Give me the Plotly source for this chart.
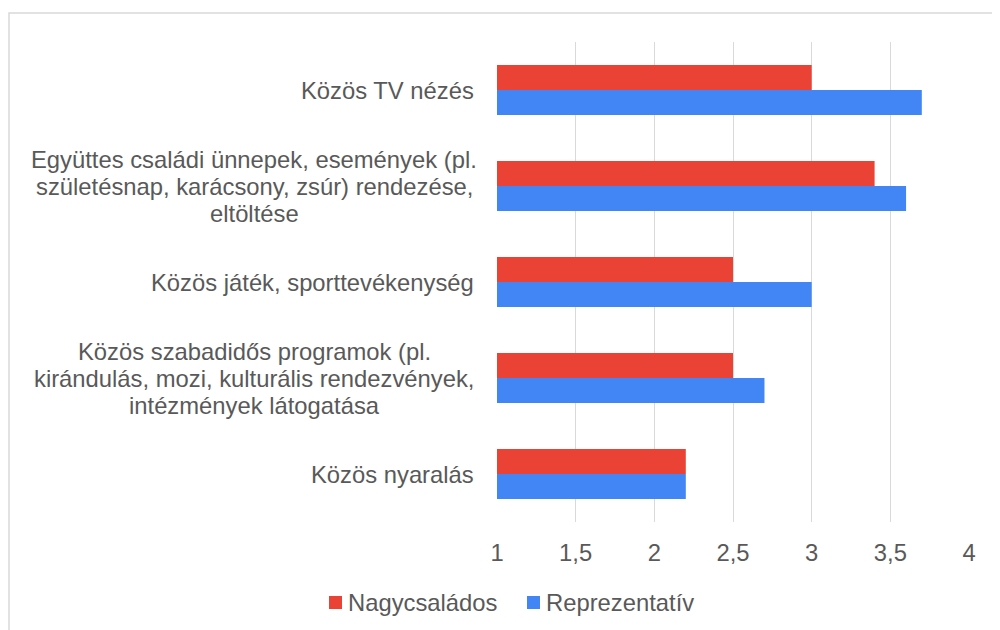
import plotly.graph_objects as go

categories = [
    "Közös TV nézés",
    "Együttes családi ünnepek, események (pl. születésnap, karácsony, zsúr) rendezése, eltöltése",
    "Közös játék, sporttevékenység",
    "Közös szabadidős programok (pl. kirándulás, mozi, kulturális rendezvények, intézmények látogatása",
    "Közös nyaralás",
]
category_lines = [
    ["Közös TV nézés"],
    ["Együttes családi ünnepek, események (pl.", "születésnap, karácsony, zsúr) rendezése,", "eltöltése"],
    ["Közös játék, sporttevékenység"],
    ["Közös szabadidős programok (pl.", "kirándulás, mozi, kulturális rendezvények,", "intézmények látogatása"],
    ["Közös nyaralás"],
]
series_names = ["Nagycsaládos", "Reprezentatív"]
nagycsalados = [3.0, 3.4, 2.5, 2.5, 2.2]
reprezentativ = [3.7, 3.6, 3.0, 2.7, 2.2]
tick_vals = [1, 1.5, 2, 2.5, 3, 3.5, 4]
tick_text = ["1", "1,5", "2", "2,5", "3", "3,5", "4"]

FONT = "Liberation Sans, Arial, sans-serif"
FS = 23.8
GRAY = "#595959"
RED = "#EA4335"
BLUE = "#4285F4"

# page has an 8px body margin; figure coords = page coords - 8
OFF = 8
W, H = 992, 622
L, R, T, B = 489, 31, 34, 108
PW = W - L - R
PH = H - T - B


def px_x(p):
    return (p - OFF - L) / PW


def px_y(p):
    return (H - B - (p - OFF)) / PH


fig = go.Figure()
fig.add_trace(go.Bar(y=categories, x=nagycsalados, orientation="h",
                     name=series_names[0], marker_color=RED, marker_line_width=0))
fig.add_trace(go.Bar(y=categories, x=reprezentativ, orientation="h",
                     name=series_names[1], marker_color=BLUE, marker_line_width=0))

LINE_H = 27
for c, lines in zip(categories, category_lines):
    n = len(lines)
    if n == 1:
        fig.add_annotation(x=0, xref="paper", y=c, yref="y", text=lines[0], showarrow=False,
                           xanchor="right", yanchor="middle", xshift=-21,
                           font=dict(family=FONT, size=FS, color=GRAY))
    else:
        for i, ln in enumerate(lines):
            fig.add_annotation(x=px_x(254), xref="paper", y=c, yref="y", text=ln,
                               showarrow=False, xanchor="center", yanchor="middle",
                               yshift=-(i - (n - 1) / 2) * LINE_H,
                               font=dict(family=FONT, size=FS, color=GRAY))

# outer frame (cut off at right and bottom)
fig.add_shape(type="rect", xref="paper", yref="paper",
              x0=px_x(9), x1=px_x(1020), y0=px_y(650), y1=px_y(13),
              line=dict(color="#d9d9d9", width=1.5), fillcolor="rgba(0,0,0,0)", layer="below")

# legend (manual)
for name, col, sx in [(series_names[0], RED, 329), (series_names[1], BLUE, 527)]:
    fig.add_shape(type="rect", xref="paper", yref="paper",
                  x0=px_x(sx), x1=px_x(sx + 13), y0=px_y(609), y1=px_y(596),
                  line=dict(width=0), fillcolor=col)
    fig.add_annotation(x=px_x(sx + 17), xref="paper", y=px_y(602.5), yref="paper",
                       text=name, showarrow=False, xanchor="left", yanchor="middle",
                       font=dict(family=FONT, size=FS, color=GRAY))

fig.update_layout(
    width=W, height=H,
    margin=dict(l=L, r=R, t=T, b=B),
    paper_bgcolor="white", plot_bgcolor="white",
    barmode="group", bargap=0.48, bargroupgap=0,
    font=dict(family=FONT, size=FS, color=GRAY),
    xaxis=dict(range=[1, 4], tickvals=tick_vals, ticktext=tick_text,
               showgrid=True, gridcolor="#d9d9d9", gridwidth=1.3,
               zeroline=False, showline=False,
               ticks="outside", ticklen=9, tickcolor="rgba(0,0,0,0)",
               tickfont=dict(family=FONT, size=FS, color=GRAY)),
    yaxis=dict(autorange="reversed", showticklabels=False, showgrid=False,
               zeroline=False, showline=False, type="category"),
    showlegend=False,
)

fig.write_html("out.html")
